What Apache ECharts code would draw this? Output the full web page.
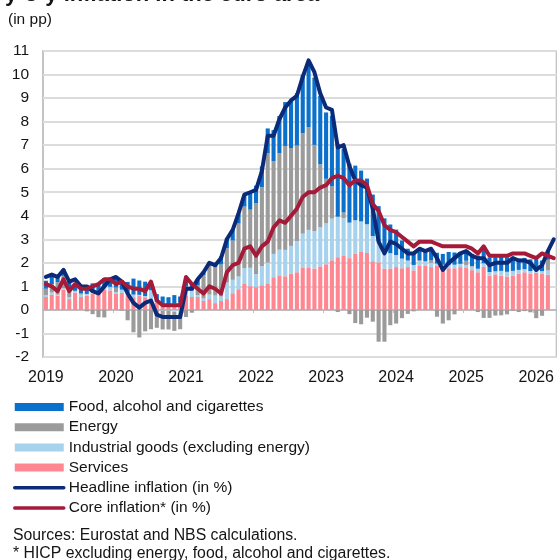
<!DOCTYPE html>
<html>
<head>
<meta charset="utf-8">
<script src="https://cdn.jsdelivr.net/npm/echarts@6/dist/echarts.min.js"></script>
<style>
  html, body { margin: 0; padding: 0; background: #ffffff; }
  #chart { width: 557px; height: 560px; }
</style>
</head>
<body>
<div id="chart"></div>
<script>
// Year tick labels (one label per January)
const years = ['2019', '2020', '2021', '2022', '2023', '2024', '2025', '2026'];

// Contributions to y-o-y HICP inflation, in percentage points (Jan 2019 – Mar 2026)
const services = [
  0.55, 0.64, 0.60, 0.87, 0.46, 0.74, 0.55, 0.60, 0.69, 0.69, 0.87, 0.83,
  0.68, 0.72, 0.59, 0.54, 0.59, 0.54, 0.41, 0.32, 0.23, 0.18, 0.27, 0.32,
  0.59, 0.55, 0.55, 0.38, 0.46, 0.29, 0.38, 0.46, 0.71, 0.88, 1.13, 1.01,
  0.97, 1.05, 1.13, 1.39, 1.47, 1.43, 1.55, 1.60, 1.81, 1.81, 1.76, 1.85,
  1.94, 2.11, 2.24, 2.29, 2.20, 2.38, 2.46, 2.42, 2.07, 2.02, 1.76, 1.76,
  1.82, 1.77, 1.82, 1.68, 1.87, 1.87, 1.82, 1.87, 1.82, 1.77, 1.77, 1.82,
  1.78, 1.69, 1.60, 1.83, 1.46, 1.51, 1.46, 1.42, 1.46, 1.55, 1.60, 1.55,
  1.58, 1.55, 1.50, null
];
const industrialGoods = [
  0.08, 0.10, 0.05, 0.05, 0.08, 0.05, 0.10, 0.08, 0.08, 0.08, 0.10, 0.13,
  0.08, 0.14, 0.14, 0.11, 0.05, 0.05, 0.43, 0.03, -0.03, -0.03, -0.08, -0.14,
  0.40, 0.27, 0.08, 0.11, 0.19, 0.32, 0.19, 0.70, 0.57, 0.54, 0.65, 0.78,
  0.55, 0.81, 0.88, 0.99, 1.09, 1.12, 1.17, 1.33, 1.43, 1.59, 1.59, 1.66,
  1.74, 1.77, 1.72, 1.61, 1.51, 1.43, 1.30, 1.22, 1.07, 0.91, 0.75, 0.65,
  0.51, 0.41, 0.28, 0.23, 0.21, 0.18, 0.18, 0.10, 0.10, 0.13, 0.15, 0.13,
  0.13, 0.15, 0.15, 0.15, 0.15, 0.13, 0.20, 0.20, 0.20, 0.15, 0.13, 0.10,
  0.12, 0.10, 0.18, null
];
const energy = [
  0.27, 0.36, 0.53, 0.53, 0.38, 0.02, 0.05, -0.06, -0.18, -0.31, -0.32, 0.02,
  0.19, -0.03, -0.44, -0.95, -1.17, -0.91, -0.82, -0.76, -0.80, -0.80, -0.81, -0.68,
  -0.30, -0.12, 0.41, 0.99, 1.24, 1.20, 1.36, 1.46, 1.67, 2.25, 2.61, 2.47,
  3.02, 3.36, 4.65, 3.94, 4.10, 4.41, 4.16, 4.05, 4.27, 4.36, 3.66, 2.68,
  1.89, 1.37, -0.09, 0.24, -0.18, -0.56, -0.61, -0.33, -0.50, -1.35, -1.35, -0.65,
  -0.58, -0.35, -0.17, -0.06, 0.03, 0.02, 0.11, -0.29, -0.58, -0.44, -0.19, 0.01,
  0.18, 0.02, -0.09, -0.34, -0.34, -0.24, -0.23, -0.19, -0.04, -0.09, -0.05, -0.10,
  -0.35, -0.25, 0.45, null
];
const food = [
  0.34, 0.44, 0.29, 0.29, 0.30, 0.30, 0.27, 0.38, 0.36, 0.32, 0.38, 0.38,
  0.42, 0.40, 0.46, 0.68, 0.61, 0.61, 0.38, 0.32, 0.34, 0.36, 0.36, 0.25,
  0.31, 0.29, 0.24, 0.15, 0.13, 0.11, 0.35, 0.44, 0.44, 0.42, 0.48, 0.70,
  0.74, 0.88, 1.05, 1.32, 1.58, 1.87, 2.06, 2.23, 2.48, 2.75, 2.86, 2.90,
  2.82, 3.00, 3.10, 2.70, 2.50, 2.32, 2.16, 1.94, 1.76, 1.48, 1.38, 1.22,
  1.08, 0.77, 0.50, 0.54, 0.50, 0.48, 0.44, 0.46, 0.46, 0.56, 0.52, 0.50,
  0.44, 0.52, 0.56, 0.58, 0.62, 0.60, 0.64, 0.62, 0.58, 0.48, 0.48, 0.50,
  0.45, 0.45, 0.37, null
];

// Rates in % (Jan 2019 – Apr 2026)
const headline = [
  1.4, 1.5, 1.4, 1.7, 1.2, 1.3, 1.0, 1.0, 0.8, 0.7, 1.0, 1.3,
  1.4, 1.2, 0.7, 0.3, 0.1, 0.3, 0.4, -0.2, -0.3, -0.3, -0.3, -0.3,
  0.9, 0.9, 1.3, 1.6, 2.0, 1.9, 2.2, 3.0, 3.4, 4.1, 4.9, 5.0,
  5.1, 5.9, 7.4, 7.4, 8.1, 8.6, 8.9, 9.1, 9.9, 10.6, 10.1, 9.2,
  8.6, 8.5, 6.9, 7.0, 6.1, 5.5, 5.3, 5.2, 4.3, 2.9, 2.4, 2.9,
  2.8, 2.6, 2.4, 2.4, 2.6, 2.5, 2.6, 2.2, 1.7, 2.0, 2.2, 2.4,
  2.5, 2.3, 2.2, 2.2, 1.9, 2.0, 2.0, 2.0, 2.2, 2.1, 2.1, 2.0,
  1.7, 1.9, 2.5, 3.0
];
const core = [
  1.1, 1.0, 0.8, 1.3, 0.8, 1.1, 0.9, 0.9, 1.0, 1.1, 1.3, 1.3,
  1.1, 1.2, 1.0, 0.9, 0.9, 0.8, 1.2, 0.4, 0.2, 0.2, 0.2, 0.2,
  1.4, 1.1, 0.9, 0.7, 1.0, 0.9, 0.7, 1.6, 1.9, 2.0, 2.6, 2.7,
  2.3, 2.7, 2.9, 3.5, 3.8, 3.7, 4.0, 4.3, 4.8, 5.0, 5.0, 5.2,
  5.3, 5.6, 5.7, 5.6, 5.3, 5.5, 5.5, 5.3, 4.5, 4.2, 3.6, 3.4,
  3.3, 3.1, 2.9, 2.7, 2.9, 2.9, 2.9, 2.8, 2.7, 2.7, 2.7, 2.7,
  2.7, 2.6, 2.4, 2.7, 2.3, 2.3, 2.3, 2.3, 2.4, 2.4, 2.4, 2.3,
  2.2, 2.4, 2.3, 2.2
];

// Monthly category keys, one per headline observation
const months = [];
years.forEach(y => {
  for (let m = 1; m <= 12; m++) months.push(y + '-' + String(m).padStart(2, '0'));
});
months.length = headline.length;

const FONT = '"Liberation Sans", Arial, Helvetica, sans-serif';
const TEXT = '#141414';
const AXIS_GREY = '#bdbdbd';
const HEADLINE_COLOR = '#0b2a78';
const CORE_COLOR = '#a51a39';

const names = {
  food: 'Food, alcohol and cigarettes',
  energy: 'Energy',
  goods: 'Industrial goods (excluding energy)',
  services: 'Services',
  headline: 'Headline inflation (in %)',
  core: 'Core inflation* (in %)'
};

function barSeries(name, data, color) {
  return {
    name: name,
    type: 'bar',
    stack: 'contrib',
    barWidth: '70%',
    data: data,
    itemStyle: { color: color },
    emphasis: { disabled: true }
  };
}

function lineSeries(name, data, color) {
  return {
    name: name,
    type: 'line',
    data: data,
    symbol: 'none',
    z: 5,
    lineStyle: { color: color, width: 4, cap: 'round', join: 'round' },
    itemStyle: { color: color },
    emphasis: { disabled: true }
  };
}

const chart = echarts.init(document.getElementById('chart'), null, { renderer: 'canvas' });

chart.setOption({
  animation: false,
  textStyle: { fontFamily: FONT },
  grid: {
    left: 43, top: 51, right: -2, bottom: 203,
    show: true, borderColor: '#c4c4c4', borderWidth: 2
  },
  xAxis: [
    {
      type: 'category',
      data: months,
      boundaryGap: true,
      axisLine: { onZero: true, lineStyle: { color: AXIS_GREY, width: 2 } },
      axisTick: { show: true, interval: i => i % 12 === 0, length: 3, lineStyle: { color: AXIS_GREY, width: 1 } },
      axisLabel: { show: false },
      splitLine: { show: false }
    },
    {
      type: 'category',
      data: months,
      position: 'bottom',
      boundaryGap: true,
      axisLine: { show: false, onZero: false },
      axisTick: { show: false },
      axisLabel: {
        interval: i => i % 12 === 0,
        formatter: (v, i) => years[Math.floor(i / 12)],
        fontSize: 16, color: TEXT, margin: 13, fontFamily: FONT
      },
      splitLine: { show: false }
    }
  ],
  yAxis: {
    type: 'value',
    min: -2, max: 11, interval: 1,
    axisLine: { show: false },
    axisTick: { show: false },
    axisLabel: { fontSize: 15.5, color: TEXT, margin: 14, fontFamily: FONT },
    splitLine: { lineStyle: { color: '#dcdcdc', width: 2 } }
  },
  legend: {
    orient: 'vertical',
    left: 8, top: 394,
    itemWidth: 49, itemHeight: 8, itemGap: 4.2,
    selectedMode: false,
    textStyle: { fontSize: 15.5, color: TEXT, fontFamily: FONT },
    data: [
      { name: names.food, icon: 'rect' },
      { name: names.energy, icon: 'rect' },
      { name: names.goods, icon: 'rect' },
      { name: names.services, icon: 'rect' },
      { name: names.headline, itemStyle: { color: 'rgba(0,0,0,0)', borderWidth: 0 }, lineStyle: { width: 3.5, color: HEADLINE_COLOR } },
      { name: names.core, itemStyle: { color: 'rgba(0,0,0,0)', borderWidth: 0 }, lineStyle: { width: 3.5, color: CORE_COLOR } }
    ]
  },
  graphic: [
    {
      type: 'text', left: 5, top: -16,
      style: { text: 'y-o-y inflation in the euro area', font: 'bold 22px ' + FONT, fill: TEXT }
    },
    {
      type: 'text', left: 8, top: 12,
      style: { text: '(in pp)', font: '15.5px ' + FONT, fill: TEXT }
    },
    {
      type: 'text', left: 13, top: 528,
      style: { text: 'Sources: Eurostat and NBS calculations.', font: '15.8px ' + FONT, fill: TEXT }
    },
    {
      type: 'text', left: 13, top: 546,
      style: { text: '* HICP excluding energy, food, alcohol and cigarettes.', font: '15.8px ' + FONT, fill: TEXT }
    }
  ],
  series: [
    barSeries(names.services, services, '#ff8791'),
    barSeries(names.goods, industrialGoods, '#a6d2ee'),
    barSeries(names.energy, energy, '#9b9b9b'),
    barSeries(names.food, food, '#0b70cb'),
    lineSeries(names.headline, headline, HEADLINE_COLOR),
    lineSeries(names.core, core, CORE_COLOR)
  ]
});
</script>
</body>
</html>
